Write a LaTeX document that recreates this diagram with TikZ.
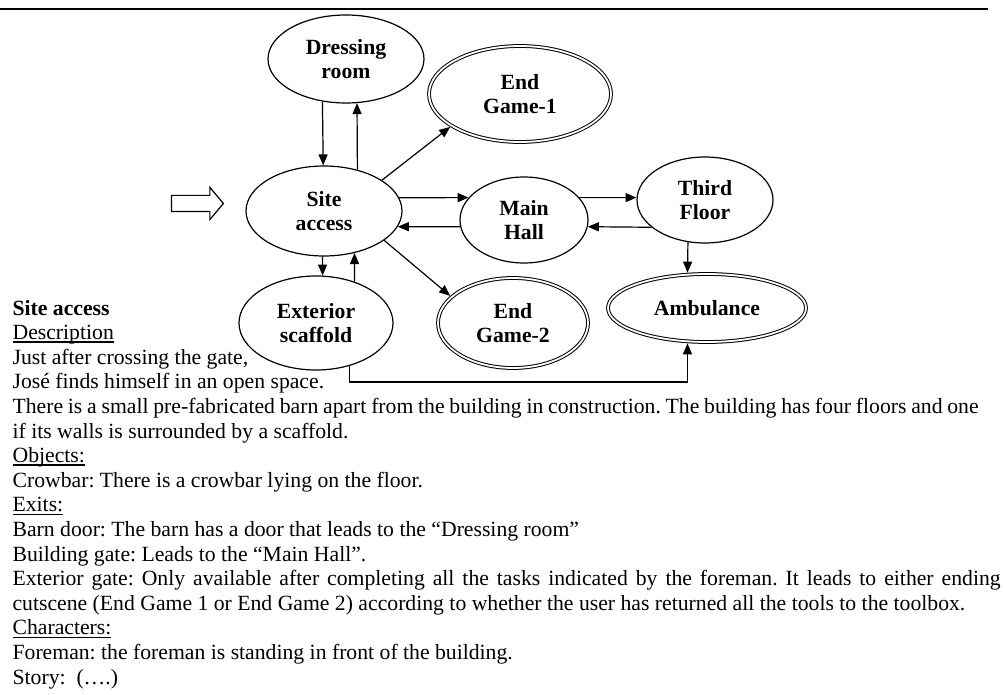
\documentclass[tikz,border=0pt]{standalone}
\usepackage{fontspec}
\setmainfont{Liberation Serif}
\usetikzlibrary{positioning}
\usetikzlibrary{shapes.geometric}
\usetikzlibrary{shapes.arrows}
\usetikzlibrary{arrows.meta}
\frenchspacing
\tikzset{>={Triangle[length=11pt,width=9pt]}}
\tikzset{room/.style={draw, ellipse, line width=1.2pt, inner sep=0pt, align=center, font=\bfseries\fontsize{21.7}{24.5}\selectfont}}
\tikzset{ending/.style={room, double, line width=1pt, double distance=1.8pt}}
\tikzset{txt/.style={anchor=base west, inner sep=0pt, font=\fontsize{21.7}{24.5}\selectfont}}
\newcommand{\ulined}[1]{\setbox0\hbox{#1}\rlap{\rule[-3pt]{\wd0}{1.2pt}}\box0}

\begin{document}
\begin{tikzpicture}[x=1pt, y=-1pt, on grid, line width=1.2pt]
        \useasboundingbox (0,0) rectangle (1004,695);
        \draw[line width=2pt] (0,9.5) -- (988,9.5);

        \node[room, minimum width=156pt, minimum height=90pt] (sa) at (324,211) {Site\\access};
        \node[room, minimum width=156pt, minimum height=88pt, above right=152pt and 22pt of sa] (dr) {Dressing\\room};
        \node[ending, minimum width=182pt, minimum height=96pt, above right=117pt and 196pt of sa] (eg1) {End\\Game-1};
        \node[room, minimum width=128pt, minimum height=86pt, right=200pt of sa, yshift=-9pt] (mh) {Main\\Hall};
        \node[room, minimum width=136pt, minimum height=86pt, right=181pt of mh, yshift=20pt] (tf) {Third\\Floor};
        \node[ending, minimum width=198pt, minimum height=68pt, below=108pt of tf, xshift=2pt] (amb) {Ambulance};
        \node[ending, minimum width=150pt, minimum height=90pt, below right=112pt and 189pt of sa] (eg2) {End\\Game-2};
        \node[room, minimum width=154pt, minimum height=94pt, below=112pt of sa, xshift=-8pt] (es) {Exterior\\scaffold};

        \node[draw, single arrow, minimum height=52pt, inner sep=7.5pt, single arrow head extend=8pt, single arrow tip angle=100] (entry) at (194,203.5) {};

        \draw [->] (dr.241) -- (sa.91);
        \draw [->] (sa.51) -- (dr.284);
        \draw [->, shorten >=1.5pt] (sa.28) -- (eg1.205);
        \draw [->] (sa.10) -- (mh.158);
        \draw [->] (mh.186) -- (sa.348);
        \draw [->] (mh.22) -- (tf.178);
        \draw [->] (tf.207) -- (mh.354);
        \draw [->, shorten >=1.5pt] (tf.248) -- (amb.120);
        \draw [->] (sa.268) -- (es.82);
        \draw [->] (es.47) -- (sa.306);
        \draw [->, shorten >=1.5pt] (sa.334) -- (eg2.157);
        \draw [->, shorten >=1.5pt] (es.308) -- ++(0,16) -| (amb.240);

        \node[txt] (title) at (12,315) {\bfseries Site access};
        \node[txt] (desc) at (12,339.6) {\ulined{Description}};
        \node[txt] (d1) at (12,364.2) {Just after crossing the gate,};
        \node[txt] (d2) at (12,388.8) {José finds himself in an open space.};
        \node[txt] (d3) at (12,413.4) {\makebox[966pt][s]{There is a small pre-fabricated barn apart from the building in construction. The building has four floors and one}};
        \node[txt] (d4) at (12,438) {if its walls is surrounded by a scaffold.};
        \node[txt] (obj) at (12,462.6) {\ulined{Objects:}};
        \node[txt] (o1) at (12,487.2) {Crowbar: There is a crowbar lying on the floor.};
        \node[txt] (exits) at (12,511.8) {\ulined{Exits:}};
        \node[txt] (x1) at (12,536.4) {Barn door: The barn has a door that leads to the “Dressing room”};
        \node[txt] (x2) at (12,561) {Building gate: Leads to the “Main Hall”.};
        \node[txt] (x3) at (12,585.6) {\makebox[988pt][s]{Exterior gate: Only available after completing all the tasks indicated by the foreman. It leads to either ending}};
        \node[txt] (x4) at (12,610.2) {cutscene (End Game 1 or End Game 2) according to whether the user has returned all the tools to the toolbox.};
        \node[txt] (chars) at (12,634.8) {\ulined{Characters:}};
        \node[txt] (c1) at (12,659.4) {Foreman: the foreman is standing in front of the building.};
        \node[txt] (story) at (12,684) {Story:\ \ (….)};
\end{tikzpicture}
\end{document}
